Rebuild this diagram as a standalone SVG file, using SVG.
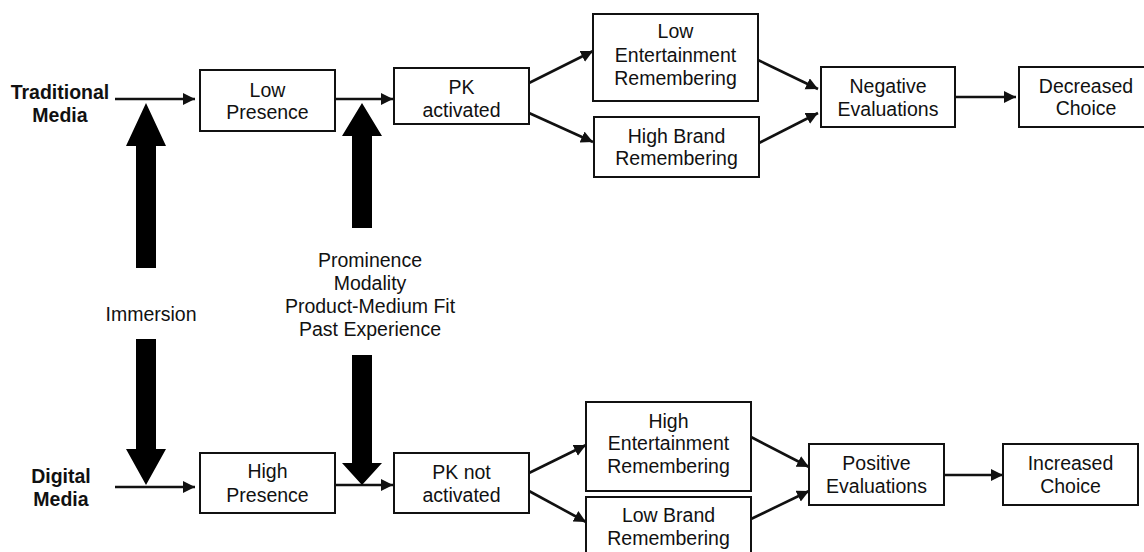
<svg xmlns="http://www.w3.org/2000/svg" width="1144" height="552" viewBox="0 0 1144 552">
<defs>
<style>
.box{fill:#fff;stroke:#111;stroke-width:2}
.t{font-family:"Liberation Sans",Arial,sans-serif;font-size:19.5px;fill:#111;text-anchor:middle}
.b{font-weight:bold}
.c{stroke:#111;stroke-width:2.6;fill:none;marker-end:url(#ah)}
.big{fill:#000}
</style>
<marker id="ah" markerUnits="userSpaceOnUse" markerWidth="13" markerHeight="13" refX="12" refY="6" orient="auto">
<path d="M0,0 L12,6 L0,12 z" fill="#111"/>
</marker>
</defs>
<rect width="1144" height="552" fill="#fff"/>

<g id="connectors">
<line class="c" x1="115" y1="99" x2="195" y2="99"/>
<line class="c" x1="335" y1="99" x2="393" y2="99"/>
<line class="c" x1="529" y1="83" x2="593" y2="51"/>
<line class="c" x1="529" y1="113" x2="593" y2="142"/>
<line class="c" x1="758" y1="60" x2="818" y2="89"/>
<line class="c" x1="759" y1="143" x2="818" y2="113"/>
<line class="c" x1="955" y1="97" x2="1016" y2="97"/>
<line class="c" x1="115" y1="487" x2="195" y2="487"/>
<line class="c" x1="335" y1="485" x2="393" y2="485"/>
<line class="c" x1="529" y1="473" x2="586" y2="445"/>
<line class="c" x1="529" y1="491" x2="586" y2="522"/>
<line class="c" x1="751" y1="437" x2="809" y2="467"/>
<line class="c" x1="751" y1="519" x2="809" y2="491"/>
<line class="c" x1="944" y1="475" x2="1003" y2="475"/>
</g>

<g id="big-arrows">
<polygon class="big" points="146,103 166,146 156,146 156,268 136,268 136,146 126,146"/>
<polygon class="big" points="362,103 382,136 372,136 372,228 352,228 352,136 342,136"/>
<polygon class="big" points="146,485 166,449 156,449 156,339 136,339 136,449 126,449"/>
<polygon class="big" points="362,485 382,463 372,463 372,355 352,355 352,463 342,463"/>
</g>

<g id="traditional-media">
<text class="t b" x="60" y="99">Traditional</text>
<text class="t b" x="60" y="122">Media</text>
</g>
<g id="digital-media">
<text class="t b" x="61" y="483">Digital</text>
<text class="t b" x="61" y="506">Media</text>
</g>
<g id="immersion">
<text class="t" x="151" y="321">Immersion</text>
</g>
<g id="factors">
<text class="t" x="370" y="267">Prominence</text>
<text class="t" x="370" y="290">Modality</text>
<text class="t" x="370" y="313">Product-Medium Fit</text>
<text class="t" x="370" y="336">Past Experience</text>
</g>

<g id="low-presence">
<rect class="box" x="200" y="70" width="135" height="61"/>
<text class="t" x="267.5" y="97">Low</text>
<text class="t" x="267.5" y="119">Presence</text>
</g>
<g id="pk-activated">
<rect class="box" x="394" y="68" width="135" height="56"/>
<text class="t" x="461.5" y="94">PK</text>
<text class="t" x="461.5" y="117">activated</text>
</g>
<g id="low-entertainment">
<rect class="box" x="593" y="14" width="165" height="87"/>
<text class="t" x="675.5" y="38">Low</text>
<text class="t" x="675.5" y="62">Entertainment</text>
<text class="t" x="675.5" y="85">Remembering</text>
</g>
<g id="high-brand">
<rect class="box" x="594" y="117" width="165" height="60"/>
<text class="t" x="676.5" y="143">High Brand</text>
<text class="t" x="676.5" y="165">Remembering</text>
</g>
<g id="negative-evaluations">
<rect class="box" x="821" y="67" width="134" height="60"/>
<text class="t" x="888" y="93">Negative</text>
<text class="t" x="888" y="116">Evaluations</text>
</g>
<g id="decreased-choice">
<rect class="box" x="1019" y="67" width="135" height="60"/>
<text class="t" x="1086" y="93">Decreased</text>
<text class="t" x="1086" y="115">Choice</text>
</g>

<g id="high-presence">
<rect class="box" x="200" y="453" width="135" height="60"/>
<text class="t" x="267.5" y="478">High</text>
<text class="t" x="267.5" y="502">Presence</text>
</g>
<g id="pk-not-activated">
<rect class="box" x="394" y="453" width="135" height="60"/>
<text class="t" x="461.5" y="479">PK not</text>
<text class="t" x="461.5" y="502">activated</text>
</g>
<g id="high-entertainment">
<rect class="box" x="586" y="402" width="165" height="89"/>
<text class="t" x="668.5" y="428">High</text>
<text class="t" x="668.5" y="450">Entertainment</text>
<text class="t" x="668.5" y="473">Remembering</text>
</g>
<g id="low-brand">
<rect class="box" x="586" y="497" width="165" height="62"/>
<text class="t" x="668.5" y="522">Low Brand</text>
<text class="t" x="668.5" y="545">Remembering</text>
</g>
<g id="positive-evaluations">
<rect class="box" x="809" y="444" width="135" height="61"/>
<text class="t" x="876.5" y="470">Positive</text>
<text class="t" x="876.5" y="493">Evaluations</text>
</g>
<g id="increased-choice">
<rect class="box" x="1003" y="444" width="135" height="61"/>
<text class="t" x="1070.5" y="470">Increased</text>
<text class="t" x="1070.5" y="493">Choice</text>
</g>
</svg>
